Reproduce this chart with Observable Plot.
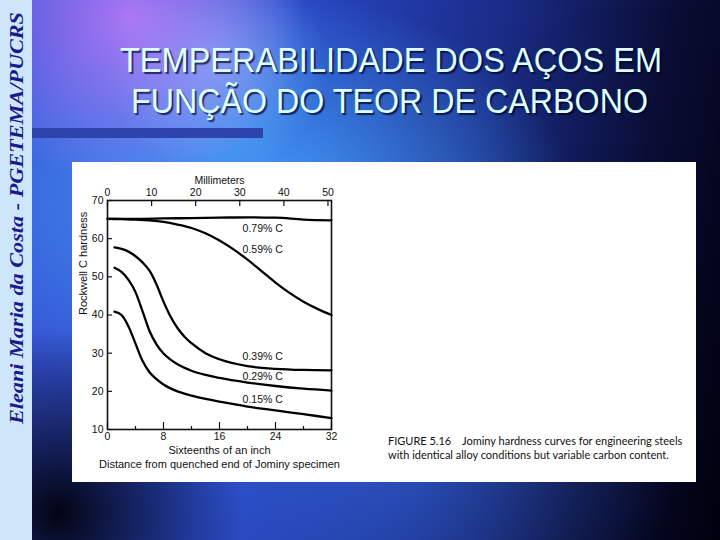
<!DOCTYPE html>
<html>
<head>
<meta charset="utf-8">
<script src="https://cdn.jsdelivr.net/npm/d3@7"></script>
<script src="https://cdn.jsdelivr.net/npm/@observablehq/plot@0.6"></script>
<style>
html,body{margin:0;padding:0;}
body{width:720px;height:540px;position:relative;overflow:hidden;
background:
 radial-gradient(circle at 8% 95%, rgba(0,0,10,0.95), rgba(0,0,10,0) 22%),
 radial-gradient(circle at 18% 3%, rgba(210,130,255,0.75), rgba(210,130,255,0) 22%),
 radial-gradient(circle at 30% 12%, rgba(140,210,255,0.55), rgba(140,210,255,0) 16%),
 radial-gradient(ellipse 45% 40% at 35% 38%, rgba(70,170,255,0.9), rgba(70,170,255,0) 100%),
 radial-gradient(ellipse 40% 45% at 55% 80%, rgba(60,120,240,0.5), rgba(60,120,240,0) 100%),
 linear-gradient(100deg, #3a56d8 0%, #2a48c8 35%, #1a2c88 62%, #0a0e38 82%, #00000c 100%);}
#strip{position:absolute;left:0;top:0;width:32px;height:540px;background:#cde6fa;}
#panel{position:absolute;left:72px;top:162px;width:624px;height:320px;background:#fff;}
#chart{position:absolute;left:72px;top:162px;}
#caption{position:absolute;left:388px;top:434px;font-family:Lato,"Open Sans",sans-serif;font-size:11px;color:#111;line-height:14px;white-space:nowrap;}
#deco{position:absolute;left:0;top:0;}
</style>
</head>
<body>
<div id="strip"></div>
<div id="panel"></div>
<svg id="deco" width="720" height="540">
  <rect x="32" y="128" width="231" height="10" fill="#2c44ac"></rect>
  <g font-family="Liberation Sans, Arial, sans-serif" font-size="35" fill="#dcffff" style="text-shadow:2px 2px 1px rgba(0,0,40,0.7)">
    <text id="t1" x="120" y="72" textLength="542" lengthAdjust="spacingAndGlyphs"></text>
    <text id="t2" x="131" y="113" textLength="517" lengthAdjust="spacingAndGlyphs"></text>
  </g>
  <text id="side" transform="translate(23,424) rotate(-90)" font-family="Liberation Serif, Times New Roman, serif" font-size="18" font-weight="bold" font-style="italic" fill="#1a1a8c" textLength="412" lengthAdjust="spacingAndGlyphs"></text>
</svg>
<div id="chart"></div>
<div id="caption"></div>
<script>
// ---- text ----
const titleLines = ["TEMPERABILIDADE DOS AÇOS EM", "FUNÇÃO DO TEOR DE CARBONO"];
const sideText = "Eleani Maria da Costa - PGETEMA/PUCRS";
const captionLines = ["FIGURE 5.16\u2003 Jominy hardness curves for engineering steels", "with identical alloy conditions but variable carbon content."];

// ---- axes / ticks ----
const sixteenthTicks = [0, 8, 16, 24, 32];
const sixteenthMinor = [4, 12, 20, 28];
const mmTicks = [0, 10, 20, 30, 40, 50];
const hrcTicks = [10, 20, 30, 40, 50, 60, 70];
const xTitle = "Sixteenths of an inch";
const xSubTitle = "Distance from quenched end of Jominy specimen";
const topTitle = "Millimeters";
const yTitle = "Rockwell C hardness";

// ---- series ----
const carbon = ["0.79% C", "0.59% C", "0.39% C", "0.29% C", "0.15% C"];
const labelHrc = [62.7, 57.2, 29.1, 23.8, 17.9];
const labelX = 19.3;

const x79 = [0, 4, 8, 12, 16, 20, 24, 28, 32];
const h79 = [65.2, 65.2, 65.3, 65.4, 65.5, 65.6, 65.5, 65.0, 64.8];
const x59 = [0, 2, 4, 6, 8, 10, 12, 14, 16, 18, 20, 22, 24, 26, 28, 30, 32];
const h59 = [65.2, 65.1, 65.0, 64.8, 64.4, 63.7, 62.8, 61.4, 59.5, 57.2, 54.5, 51.5, 48.5, 45.8, 43.5, 41.6, 40.0];
const x39 = [1, 2, 3, 4, 5, 6, 7, 8, 9, 10, 11, 12, 14, 16, 20, 24, 28, 32];
const h39 = [57.7, 57.3, 56.6, 55.4, 53.8, 51.6, 48.0, 43.5, 39.6, 36.6, 34.3, 32.6, 30.0, 28.4, 26.6, 25.9, 25.6, 25.5];
const x29 = [1, 2, 3, 4, 5, 6, 7, 8, 9, 10, 12, 14, 16, 20, 24, 28, 32];
const h29 = [52.4, 51.3, 49.2, 46.0, 41.0, 35.8, 32.3, 29.9, 28.3, 27.1, 25.4, 24.3, 23.5, 22.3, 21.4, 20.7, 20.2];
const x15 = [1, 2, 3, 4, 5, 6, 7, 8, 10, 12, 14, 16, 20, 24, 28, 32];
const h15 = [40.9, 40.0, 37.0, 32.5, 28.0, 25.0, 23.2, 21.8, 20.0, 18.9, 18.0, 17.3, 16.0, 15.0, 14.0, 13.0];

document.getElementById("t1").textContent = titleLines[0];
document.getElementById("t2").textContent = titleLines[1];
document.getElementById("side").textContent = sideText;
document.getElementById("caption").innerHTML = captionLines.join("<br>");

const seriesX = [x79, x59, x39, x29, x15];
const seriesH = [h79, h59, h39, h29, h15];
const rows = [];
seriesX.forEach((xs, i) => xs.forEach((x, j) => rows.push({series: carbon[i], x, h: seriesH[i][j]})));
const labels = carbon.map((c, i) => ({c, h: labelHrc[i]}));
const mmToSixteenths = mm => mm / 25.4 * 16;
const mmPos = mmTicks.map(mmToSixteenths);

const W = 300, H = 320, mL = 35, mR = 41, mT = 38, mB = 53;
const frameW = W - mL - mR, frameH = H - mT - mB;
const tickStyle = {stroke: "#111", strokeWidth: 1.2};

const chart = Plot.plot({
  width: W, height: H,
  marginLeft: mL, marginRight: mR, marginTop: mT, marginBottom: mB,
  style: {fontFamily: "Liberation Sans, Arial, sans-serif", fontSize: "10.5px", background: "transparent", color: "#111"},
  x: {domain: [0, 32]},
  y: {domain: [10, 70]},
  marks: [
    Plot.frame({stroke: "#111", strokeWidth: 1.6}),
    // inward ticks
    Plot.tickX(sixteenthMinor, {x: d => d, insetTop: frameH - 3, ...tickStyle}),
    Plot.tickX(sixteenthTicks, {x: d => d, insetTop: frameH - 7, ...tickStyle}),
    Plot.tickX(mmPos, {x: d => d, insetBottom: frameH - 6, ...tickStyle}),
    Plot.tickY(hrcTicks, {y: d => d, insetRight: frameW - 5, ...tickStyle}),
    Plot.axisX(sixteenthTicks, {anchor: "bottom", tickSize: 0, tickPadding: 3, label: null}),
    Plot.axisX(mmPos, {anchor: "top", tickSize: 0, tickPadding: 5, tickFormat: d => Math.round(d * 25.4 / 16), label: null}),
    Plot.axisY(hrcTicks, {anchor: "left", tickSize: 0, tickPadding: 4, label: null}),
    Plot.line(rows, {x: "x", y: "h", z: "series", curve: "monotone-x", stroke: "#000", strokeWidth: 2.3}),
    Plot.text(labels, {x: labelX, y: "h", text: "c", textAnchor: "start", fontSize: 10.5}),
    Plot.text([topTitle], {text: d => d, frameAnchor: "top", dy: -24}),
    Plot.text([yTitle], {text: d => d, frameAnchor: "left", rotate: -90, dx: -24, fontSize: 11}),
    Plot.text([xTitle], {text: d => d, frameAnchor: "bottom", dy: 24, fontSize: 11}),
    Plot.text([xSubTitle], {text: d => d, frameAnchor: "bottom", dy: 38, fontSize: 11})
  ]
});
document.getElementById("chart").appendChild(chart);
</script>
</body>
</html>
